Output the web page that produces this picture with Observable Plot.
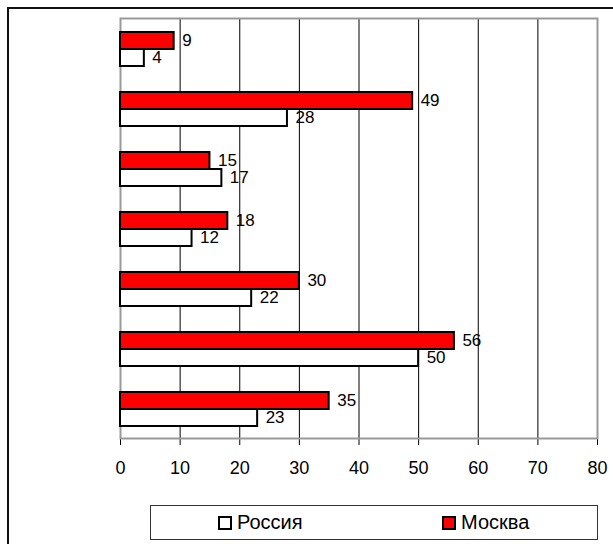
<!DOCTYPE html>
<html>
<head>
<meta charset="utf-8">
<script src="https://cdn.jsdelivr.net/npm/d3@7"></script>
<script src="https://cdn.jsdelivr.net/npm/@observablehq/plot@0.6"></script>
<style>
  html, body { margin: 0; padding: 0; background: #fff; overflow: hidden; }
  #wrap { position: relative; width: 613px; height: 544px; font-family: "Liberation Sans", Arial, sans-serif; }
  #legend { position: absolute; left: 150px; top: 505px; width: 448px; height: 35px; border: 1px solid #333; box-sizing: border-box; background: #fff; font-size: 20px; color: #000; z-index: 5; }
  .item { position: absolute; top: 5px; display: flex; align-items: center; }
  .sw { width: 10px; height: 10px; border: 2px solid #000; margin-right: 5px; }
  #chart { position: absolute; left: 0; top: 0; }
  #chart svg { display: block; }
</style>
</head>
<body>
<div id="wrap">
  <div id="chart"></div>
  <div id="legend"></div>
</div>
<script>
const categories = ["1", "2", "3", "4", "5", "6", "7"];
const series = ["Россия", "Москва"];
const moscow = [9, 49, 15, 18, 30, 56, 35];
const russia = [4, 28, 17, 12, 22, 50, 23];
const xTicks = [0, 10, 20, 30, 40, 50, 60, 70, 80];
const gridTicks = [10, 20, 30, 40, 50, 60, 70];
const colors = {"Россия": "#ffffff", "Москва": "#ff0000"};

const dataM = categories.map((c, i) => ({cat: c, value: moscow[i]}));
const dataR = categories.map((c, i) => ({cat: c, value: russia[i]}));

const chart = Plot.plot({
  width: 613,
  height: 544,
  marginLeft: 120,
  marginRight: 16,
  marginTop: 18,
  marginBottom: 106,
  style: {fontFamily: "Liberation Sans, Arial, sans-serif", fontSize: "18px", background: "transparent", color: "#000"},
  x: {domain: [0, 80], ticks: xTicks, tickSize: 7, tickPadding: 16, line: true, label: null},
  y: {domain: categories, padding: 0, axis: null},
  marks: [
    Plot.ruleX(gridTicks, {stroke: "#000", strokeWidth: 1}),
    Plot.frame({stroke: "#999", strokeWidth: 2}),
    Plot.barX(dataM, {x: "value", y: "cat", fill: colors["Москва"], stroke: "#000", strokeWidth: 2, insetTop: 14, insetBottom: 29}),
    Plot.barX(dataR, {x: "value", y: "cat", fill: colors["Россия"], stroke: "#000", strokeWidth: 2, insetTop: 31, insetBottom: 12}),
    Plot.text(dataM, {x: "value", y: "cat", text: d => String(d.value), textAnchor: "start", dx: 8, dy: -7.5, fontSize: 17, fill: "#000"}),
    Plot.text(dataR, {x: "value", y: "cat", text: d => String(d.value), textAnchor: "start", dx: 8, dy: 9.5, fontSize: 17, fill: "#000"})
  ]
});
// decorative outer chart-area border (top and left edges)
d3.select(chart).append("path")
  .attr("d", "M8,544V8H613")
  .attr("fill", "none")
  .attr("stroke", "#111")
  .attr("stroke-width", 2);
document.getElementById("chart").appendChild(chart);

const legend = document.getElementById("legend");
const pos = {"Россия": 67, "Москва": 291};
series.forEach(s => {
  const it = document.createElement("div");
  it.className = "item";
  it.style.left = pos[s] + "px";
  const sw = document.createElement("div");
  sw.className = "sw";
  sw.style.background = colors[s];
  const lb = document.createElement("span");
  lb.textContent = s;
  it.appendChild(sw);
  it.appendChild(lb);
  legend.appendChild(it);
});
</script>
</body>
</html>
